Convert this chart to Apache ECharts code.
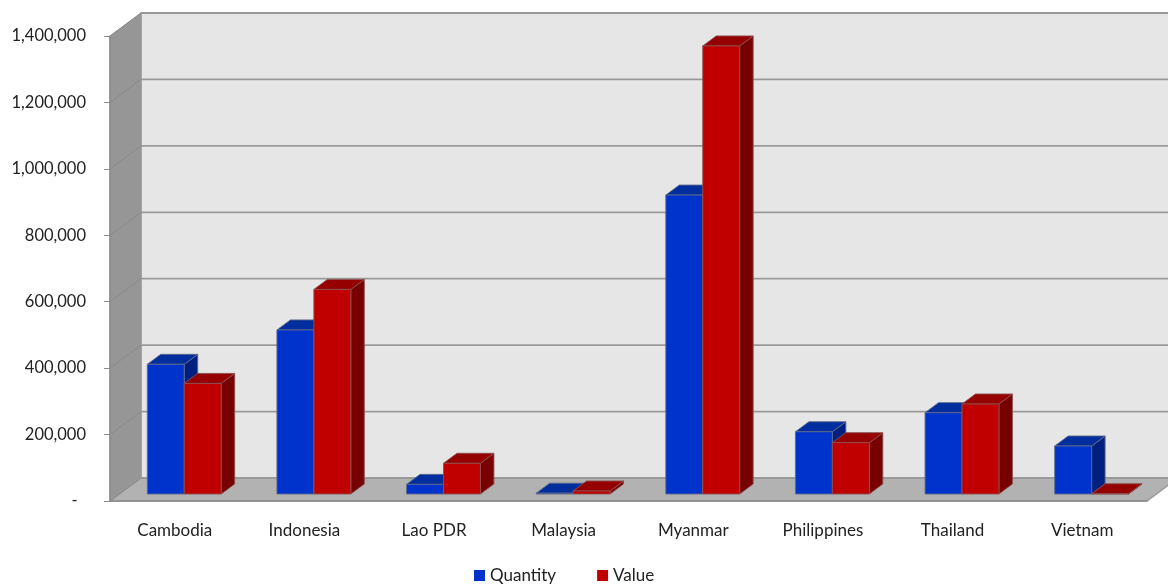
<!DOCTYPE html>
<html>
<head>
<meta charset="utf-8">
<script src="https://cdn.jsdelivr.net/npm/echarts@6/dist/echarts.min.js"></script>
<style>
html,body{margin:0;padding:0;background:#fff;}
#chart{width:1168px;height:588px;}
</style>
</head>
<body>
<div id="chart"></div>
<script>
const CATEGORIES = ['Cambodia','Indonesia','Lao PDR','Malaysia','Myanmar','Philippines','Thailand','Vietnam'];
const QUANTITY = [390500, 494000, 29000, 2500, 900000, 187500, 245000, 144500];
const VALUE = [333000, 616000, 92500, 9000, 1349000, 154500, 271000, 800];
const Y_TICKS = [0, 200000, 400000, 600000, 800000, 1000000, 1200000, 1400000];

const DX = 31, DY = 23;          // floor depth in pixels
const F1 = 7 / 23, F2 = 17 / 23; // bar front/back depth fraction

const chart = echarts.init(document.getElementById('chart'), null, {renderer: 'canvas'});

function renderWalls(params, api) {
  const cs = params.coordSys;
  const x0 = cs.x, x1 = cs.x + cs.width, yT = cs.y, yB = cs.y + cs.height;
  const children = [];
  children.push({type: 'polygon', shape: {points: [[x0 + DX, yT - DY], [x1 + DX, yT - DY], [x1 + DX, yB - DY], [x0 + DX, yB - DY]]},
    style: {fill: '#e6e6e6', stroke: '#9a9a9a', lineWidth: 1.5}});
  children.push({type: 'polygon', shape: {points: [[x0, yB], [x0, yT], [x0 + DX, yT - DY], [x0 + DX, yB - DY]]},
    style: {fill: '#969696', stroke: '#9a9a9a', lineWidth: 1}});
  children.push({type: 'polygon', shape: {points: [[x0, yB], [x1, yB], [x1 + DX, yB - DY], [x0 + DX, yB - DY]]},
    style: {fill: '#b2b2b2', stroke: '#9a9a9a', lineWidth: 1.5}});
  Y_TICKS.forEach(function (v) {
    const y = api.coord([0, v])[1];
    children.push({type: 'line', shape: {x1: x0 + DX, y1: y - DY, x2: x1 + DX, y2: y - DY},
      style: {stroke: '#9a9a9a', lineWidth: 1.8}});
    children.push({type: 'line', shape: {x1: x0, y1: y, x2: x0 + DX, y2: y - DY},
      style: {stroke: '#8a8a8a', lineWidth: 1}});
  });
  return {type: 'group', children: children};
}

function makeBar(sideIdx, front, top, side, stroke) {
  return function (params, api) {
    const idx = api.value(0);
    const c = api.coord([idx, api.value(1)]);
    const b = api.coord([idx, 0]);
    const catW = api.size([1, 0])[0];
    const barW = catW * 0.285;
    const fx = c[0] + DX * F1 + (sideIdx === 0 ? -barW : 0);
    const fyT = c[1] - DY * F1;
    const fyB = b[1] - DY * F1;
    const bx = (F2 - F1) * DX, by = (F2 - F1) * DY;
    const st = {stroke: stroke, lineWidth: 1};
    return {type: 'group', children: [
      {type: 'polygon', shape: {points: [[fx + barW, fyT], [fx + barW + bx, fyT - by], [fx + barW + bx, fyB - by], [fx + barW, fyB]]},
        style: Object.assign({fill: side}, st)},
      {type: 'polygon', shape: {points: [[fx, fyT], [fx + barW, fyT], [fx + barW + bx, fyT - by], [fx + bx, fyT - by]]},
        style: Object.assign({fill: top}, st)},
      {type: 'rect', shape: {x: fx, y: fyT, width: barW, height: Math.max(fyB - fyT, 0)},
        style: Object.assign({fill: front}, st)}
    ]};
  };
}

const option = {
  animation: false,
  textStyle: {fontFamily: 'Lato, "Open Sans", sans-serif'},
  grid: {left: 110, right: 21, top: 36, bottom: 87, containLabel: false},
  legend: {
    data: ['Quantity', 'Value'],
    left: 469, top: 562,
    icon: 'rect', itemWidth: 11, itemHeight: 11, itemGap: 41,
    textStyle: {fontSize: 17, color: '#222'}
  },
  xAxis: {
    type: 'category', data: CATEGORIES, z: 5,
    axisLine: {lineStyle: {color: '#8a8a8a', width: 1.5}},
    axisTick: {length: 6, lineStyle: {color: '#8a8a8a'}},
    axisLabel: {fontSize: 17, color: '#222', margin: 21}
  },
  yAxis: {
    type: 'value', min: 0, max: 1400000, interval: 200000, z: 5,
    axisLine: {show: true, lineStyle: {color: '#8a8a8a', width: 1.5}},
    axisTick: {show: true, length: 6, lineStyle: {color: '#8a8a8a'}},
    splitLine: {show: false},
    axisLabel: {fontSize: 16.5, color: '#222', margin: 24,
      formatter: function (v) { return v === 0 ? '-  ' : v.toLocaleString('en-US'); }}
  },
  series: [
    {type: 'custom', name: 'walls', z: 1, silent: true, renderItem: renderWalls, data: [[0, 0]], encode: {x: 0, y: 1}},
    {type: 'custom', name: 'Quantity', z: 2, itemStyle: {color: '#0033cc'},
      renderItem: makeBar(0, '#0033cc', '#002e9e', '#00207f', 'rgba(95,105,135,0.9)'),
      data: CATEGORIES.map(function (c, i) { return [i, QUANTITY[i]]; }), encode: {x: 0, y: 1}},
    {type: 'custom', name: 'Value', z: 3, itemStyle: {color: '#c00000'},
      renderItem: makeBar(1, '#c00000', '#950000', '#770000', 'rgba(140,80,80,0.9)'),
      data: CATEGORIES.map(function (c, i) { return [i, VALUE[i]]; }), encode: {x: 0, y: 1}}
  ]
};
chart.setOption(option);
</script>
</body>
</html>
